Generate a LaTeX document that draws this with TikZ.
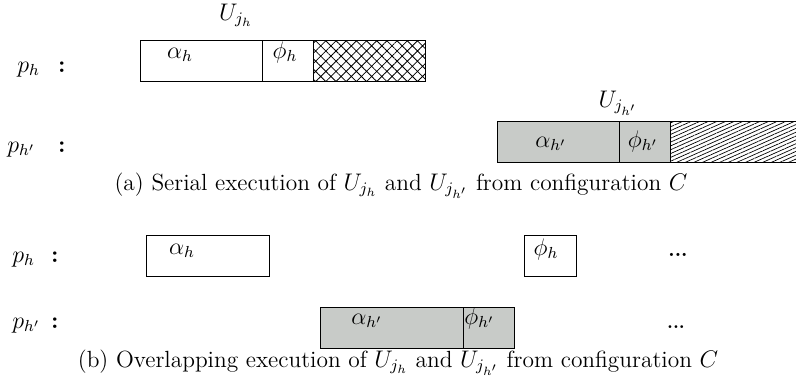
\documentclass[tikz,border=0pt]{standalone}
\usetikzlibrary{patterns.meta}
\begin{document}
\begin{tikzpicture}[x=0.5pt,y=-0.5pt,
  every node/.style={font=\fontsize{11.7}{14}\selectfont},
  box/.style={draw, line width=0.5pt, inner sep=0pt, outer sep=0pt, anchor=north west, minimum height=20.5pt},
  gbox/.style={box, fill={rgb,255:red,200;green,203;blue,200}},
  xhatch/.style={box, pattern={Hatch[angle=45,distance=3.6pt,line width=0.4pt]}},
  lhatch/.style={box, pattern={Lines[angle=24,distance=1.75pt,line width=0.35pt]}},
  lbl/.style={inner sep=0pt, anchor=base},
  colon/.style={lbl, font=\fontsize{12}{14}\selectfont\bfseries}]
\useasboundingbox (0,0) rectangle (796,387);
% (a) serial execution
\node[box, minimum width=61pt] (a1) at (140,40) {};
\node[box, minimum width=25.5pt] (f1) at (262,40) {};
\node[xhatch, minimum width=56pt] (x1) at (313,40) {};
\node[gbox, minimum width=61pt] (a2) at (497,121) {};
\node[gbox, minimum width=25.5pt] (f2) at (619,121) {};
\node[lhatch, minimum width=66pt] (x2) at (670,121) {};
\node[lbl] (u1) at (236,20) {$U_{j_h}$};
\node[lbl] (u2) at (618,107) {$U_{j_{h'}}$};
\node[lbl, anchor=base west] (p1) at (17,72) {$p_h$};
\node[colon] (c1) at (62,72) {:};
\node[lbl, anchor=base west] (p2) at (7,152) {$p_{h'}$};
\node[colon] (c2) at (62,152) {:};
\node[lbl] (ta1) at (180,58) {$\alpha_h$};
\node[lbl] (tf1) at (285,58) {$\phi_h$};
\node[lbl] (ta2) at (551,147) {$\alpha_{h'}$};
\node[lbl] (tf2) at (643,147) {$\phi_{h'}$};
\node[lbl] (capa) at (401,190) {(a) Serial execution of $U_{j_h}$ and $U_{j_{h'}}$ from configuration $C$};
% (b) overlapping execution
\node[box, minimum width=61.5pt] (a3) at (146,235) {};
\node[box, minimum width=26pt] (f3) at (524,235) {};
\node[gbox, minimum width=71.5pt] (a4) at (320,307) {};
\node[gbox, minimum width=25.5pt] (f4) at (463,307) {};
\node[lbl, anchor=base west] (p3) at (12,262) {$p_h$};
\node[colon] (c3) at (55,262) {:};
\node[lbl, anchor=base west] (p4) at (12,328) {$p_{h'}$};
\node[colon] (c4) at (55,328) {:};
\node[lbl] (ta3) at (182,254) {$\alpha_h$};
\node[lbl] (tf3) at (546,255) {$\phi_h$};
\node[lbl] (ta4) at (367,324) {$\alpha_{h'}$};
\node[lbl, anchor=base west] (tf4) at (464,324) {$\phi_{h'}$};
\node[lbl, font=\bfseries] (d1) at (678,256) {...};
\node[lbl, font=\small\bfseries] (d2) at (676,328) {...};
\node[lbl] (capb) at (398,367) {(b) Overlapping execution of $U_{j_h}$ and $U_{j_{h'}}$ from configuration $C$};
\end{tikzpicture}
\end{document}
